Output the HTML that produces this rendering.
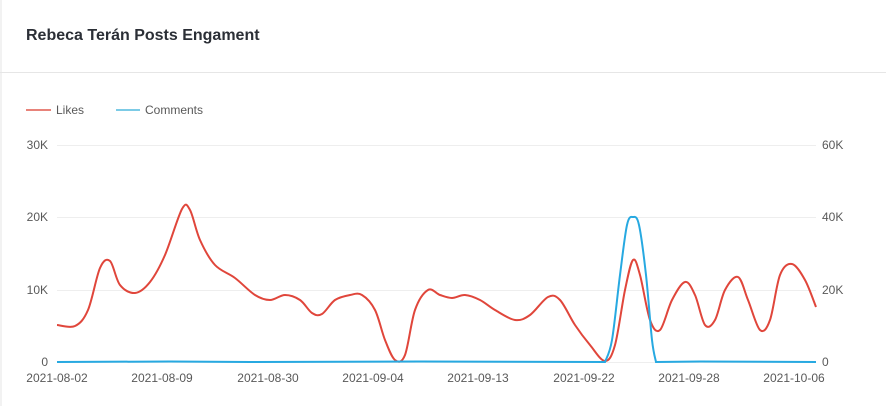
<!DOCTYPE html>
<html><head><meta charset="utf-8"><style>
body{margin:0;background:#fff;font-family:"Liberation Sans",sans-serif;}
.wrap{position:relative;width:886px;height:406px;overflow:hidden;background:#fff;}
.title{position:absolute;left:26px;top:27px;font-size:16px;font-weight:bold;color:#2b2f36;}
.sep{position:absolute;left:0;top:72px;width:886px;height:1px;background:#e6e6e6;}
.lborder{position:absolute;left:0;top:0;width:2px;height:406px;background:#f2f2f2;}
text{font-family:"Liberation Sans",sans-serif;font-size:12px;fill:#595959;}
</style></head><body><div class="wrap">
<div class="lborder"></div>
<div class="title">Rebeca Terán Posts Engament</div>
<div class="sep"></div>
<svg width="886" height="406" style="position:absolute;left:0;top:0">
<g stroke="#eee" stroke-width="1">
<line x1="57" y1="145.5" x2="816" y2="145.5"/><line x1="57" y1="217.5" x2="816" y2="217.5"/><line x1="57" y1="290.5" x2="816" y2="290.5"/><line x1="57" y1="362.5" x2="816" y2="362.5"/>
</g>
<line x1="26" y1="110" x2="51" y2="110" stroke="#e8837a" stroke-width="2"/>
<text x="56" y="114">Likes</text>
<line x1="116" y1="110" x2="140" y2="110" stroke="#7ccbe6" stroke-width="2"/>
<text x="145" y="114">Comments</text>
<g text-anchor="end"><text x="48" y="149">30K</text><text x="48" y="221">20K</text><text x="48" y="294">10K</text><text x="48" y="366">0</text></g>
<g text-anchor="start"><text x="822" y="149">60K</text><text x="822" y="221">40K</text><text x="822" y="294">20K</text><text x="822" y="366">0</text></g>
<g text-anchor="middle"><text x="57" y="382">2021-08-02</text><text x="162" y="382">2021-08-09</text><text x="268" y="382">2021-08-30</text><text x="373" y="382">2021-09-04</text><text x="478" y="382">2021-09-13</text><text x="584" y="382">2021-09-22</text><text x="689" y="382">2021-09-28</text><text x="794" y="382">2021-10-06</text></g>
<path id="red" fill="none" stroke="#e0463b" stroke-width="2"/>
<path id="blue" fill="none" stroke="#27a9e1" stroke-width="2"/>
</svg>
<script>
function cr(p,m){let d=m?"":"M"+p[0][0]+","+p[0][1];for(let i=0;i<p.length-1;i++){const a=p[i-1]||p[i],b=p[i],c=p[i+1],e=p[i+2]||c;d+=" C"+(b[0]+(c[0]-a[0])/6)+","+(b[1]+(c[1]-a[1])/6)+" "+(c[0]-(e[0]-b[0])/6)+","+(c[1]-(e[1]-b[1])/6)+" "+c[0]+","+c[1];}return d;}
const r=[[57,325],[75,326],[88,310],[100,268],[110,261],[120,285],[135,293],[150,282],[165,255],[182,209],[190,210],[200,240],[215,265],[235,278],[255,295],[270,300],[285,295],[300,300],[312,313],[322,314],[335,300],[350,295],[362,295],[375,310],[385,340],[395,360],[405,355],[415,310],[428,290],[440,295],[452,298],[465,295],[480,300],[495,310],[515,320],[530,315],[548,297],[560,300],[575,325],[590,345],[605,361],[615,345],[625,290],[633,260],[640,275],[650,320],[660,330],[672,300],[685,282],[695,295],[705,325],[715,320],[725,290],[738,277],[748,300],[760,330],[770,320],[780,275],[792,264],[805,280],[816,307]];
const b=[[605,362],[612,340],[620,275],[627,225],[633,217],[639,225],[646,275],[652,340],[656,362]];
document.getElementById("red").setAttribute("d",cr(r));
document.getElementById("blue").setAttribute("d","M57,362 L170,361.5 L250,362 L420,361.5 L605,362"+cr(b,1)+" L700,361.5 L816,362");
</script>
</div></body></html>
